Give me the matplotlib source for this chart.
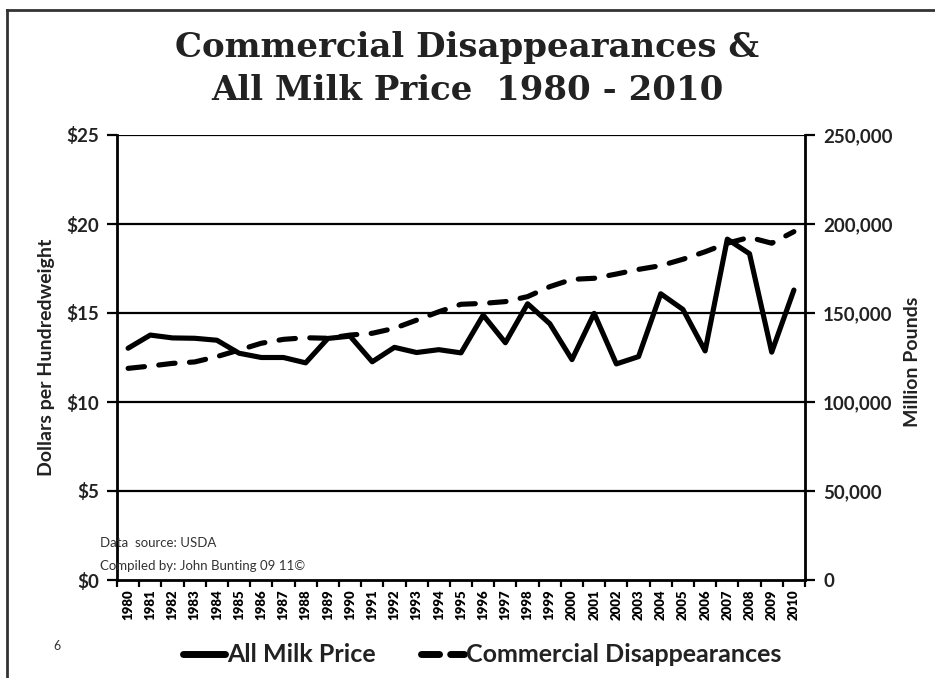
import matplotlib
matplotlib.use("Agg")
import matplotlib.pyplot as plt
from matplotlib.lines import Line2D

years = [str(y) for y in range(1980, 2011)]
milk_price = [13.02, 13.76, 13.60, 13.58, 13.47, 12.74, 12.50, 12.50, 12.20, 13.57,
              13.70, 12.26, 13.07, 12.78, 12.94, 12.76, 14.88, 13.33, 15.52, 14.40,
              12.38, 14.98, 12.14, 12.55, 16.08, 15.20, 12.87, 19.15, 18.33, 12.80,
              16.29]
disappearances = [118900, 120200, 121700, 122500, 125500, 129200, 133000, 135200, 136100, 135800,
                  137600, 138600, 141400, 146000, 150700, 154900, 155400, 156400, 159200, 164800,
                  168900, 169500, 171900, 174500, 176600, 180200, 184400, 189200, 192500, 189200,
                  195700]
left_ticks = [0, 5, 10, 15, 20, 25]
left_labels = ["$0", "$5", "$10", "$15", "$20", "$25"]
right_ticks = [0, 50000, 100000, 150000, 200000, 250000]
right_labels = ["0", "50,000", "100,000", "150,000", "200,000", "250,000"]

FONT = "Lato"
W, H = 935, 678
fig = plt.figure(figsize=(W / 100, H / 100), dpi=100)
ax = fig.add_axes([117 / W, 1 - 580 / H, (805 - 117) / W, (580 - 135) / H])
ax2 = ax.twinx()

x = list(range(len(years)))
ax.set_xlim(-0.5, len(years) - 0.5)
ax.set_ylim(0, 25)
ax2.set_ylim(0, 250000)

for v in left_ticks[1:]:
    ax.axhline(v, color="black", lw=1.6, zorder=1)

ax.plot(x, milk_price, color="black", lw=3.7, solid_joinstyle="round",
        solid_capstyle="round", zorder=3)
ax2.plot(x, disappearances, color="black", lw=3.7, dashes=(3.2, 2.8),
         dash_capstyle="round", zorder=3)

for a in (ax, ax2):
    for s in a.spines.values():
        s.set_visible(False)
ax.spines["left"].set_visible(True)
ax.spines["left"].set_linewidth(2)
ax.spines["bottom"].set_visible(True)
ax.spines["bottom"].set_linewidth(2)
ax2.spines["right"].set_visible(True)
ax2.spines["right"].set_linewidth(2)

ax.set_yticks(left_ticks)
ax.set_yticklabels(left_labels, fontsize=13.5, fontweight="bold", family=FONT, color="#222222")
ax.tick_params(axis="y", direction="out", length=7, width=1.6, pad=6)
ax2.set_yticks(right_ticks)
ax2.set_yticklabels(right_labels, fontsize=13.5, fontweight="bold", family=FONT, color="#222222")
ax2.tick_params(axis="y", direction="out", length=7, width=1.6, pad=6)

ax.set_xticks(x)
ax.set_xticklabels(years, rotation=90, fontsize=9.5, fontweight="heavy", family=FONT)
ax.set_xticks([i - 0.5 for i in range(len(years) + 1)], minor=True)
ax.tick_params(axis="x", which="major", length=0, pad=7)
ax.tick_params(axis="x", which="minor", direction="out", length=5, width=1.6)

fig.text(47 / W, 1 - 357 / H, "Dollars per Hundredweight", rotation=90, ha="center",
         va="center", fontsize=14, fontweight="bold", family=FONT, color="#222222")
fig.text(912 / W, 1 - 362 / H, "Million Pounds", rotation=90, ha="center",
         va="center", fontsize=14, fontweight="bold", family=FONT, color="#222222")

fig.text(0.5, 1 - 48 / H, "Commercial Disappearances &", ha="center", va="center",
         fontsize=24.5, fontweight="bold", family="DejaVu Serif", color="#222222")
fig.text(0.5, 1 - 90 / H, "All Milk Price  1980 - 2010", ha="center", va="center",
         fontsize=24.5, fontweight="bold", family="DejaVu Serif", color="#222222")

fig.text(100 / W, 1 - 543 / H, "Data  source: USDA", ha="left", va="center",
         fontsize=9.5, family=FONT, color="#333333")
fig.text(100 / W, 1 - 566 / H, "Compiled by: John Bunting 09 11\u00a9", ha="left", va="center",
         fontsize=9.5, family=FONT, color="#333333")
fig.text(57 / W, 1 - 646 / H, "6", ha="center", va="center", fontsize=9,
         family=FONT, color="#333333")

# slide frame
fig.add_artist(Line2D([7 / W, 7 / W], [0, 1 - 10 / H], transform=fig.transFigure,
                      color="#333333", lw=2))
fig.add_artist(Line2D([7 / W, 1], [1 - 10 / H, 1 - 10 / H], transform=fig.transFigure,
                      color="#333333", lw=2))

handles = [Line2D([], [], color="black", lw=5, solid_capstyle="round"),
           Line2D([], [], color="black", lw=5, dashes=(2.6, 1.6), dash_capstyle="round")]
leg = fig.legend(handles, ["All Milk Price", "Commercial Disappearances"], loc="center",
                 bbox_to_anchor=(482 / W, 1 - 655 / H), ncol=2, frameon=False,
                 handlelength=1.7, handletextpad=0.1, columnspacing=1.8,
                 prop={"family": FONT, "weight": "bold", "size": 18})
for t in leg.get_texts():
    t.set_color("#222222")

fig.savefig("out.png", dpi=100)
